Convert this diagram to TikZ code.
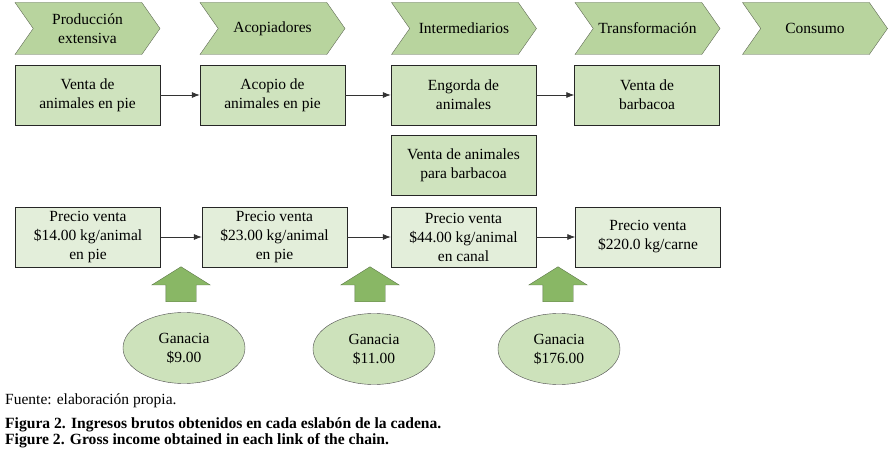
\documentclass[tikz,border=0pt]{standalone}
\usepackage{fontspec}
\setmainfont{Liberation Serif}
\usetikzlibrary{positioning,arrows,arrows.meta,shapes}
\usetikzlibrary{shapes.symbols,shapes.arrows,shapes.geometric}

\definecolor{chevfill}{RGB}{184,212,158}
\definecolor{chevline}{RGB}{95,105,85}
\definecolor{boxfill}{RGB}{207,227,190}
\definecolor{palefill}{RGB}{227,238,218}
\definecolor{ellfill}{RGB}{205,226,187}
\definecolor{upfill}{RGB}{137,183,101}
\definecolor{upline}{RGB}{95,120,75}

\newcommand{\cajafont}{\fontsize{15.5}{19}\selectfont}

\tikzset{
  eslabon/.style={shape=signal, signal from=west, signal to=east,
    signal pointer angle=110, draw=chevline, fill=chevfill,
    minimum width=145pt, minimum height=52pt, inner sep=0pt,
    align=center, font=\cajafont},
  caja/.style={draw=black!85, fill=boxfill, minimum width=145pt,
    minimum height=60pt, inner sep=0pt, align=center, font=\cajafont},
  precio/.style={caja, fill=palefill},
  ganancia/.style={ellipse, draw=black!70, fill=ellfill, minimum width=122pt,
    minimum height=71pt, inner sep=0pt, align=center, font=\cajafont},
  subida/.style={single arrow, rotate=90, draw=upline, fill=upfill,
    inner xsep=0pt, inner ysep=15pt, minimum height=35pt,
    single arrow head extend=14pt, single arrow tip angle=116},
  flecha/.style={-{Latex[length=8pt,width=6pt]}, line width=0.7pt, black!80}
}

\begin{document}
\begin{tikzpicture}[x=1pt, y=-1pt]
    \useasboundingbox (0,0) rectangle (892,470);
%
    % eslabones de la cadena
    \node[eslabon] (prod)  at (87.5,28.5)  {Producción\\extensiva};
    \node[eslabon] (acop)  at (272.5,28.5) {Acopiadores};
    \node[eslabon] (inter) at (464,28.5)   {Intermediarios};
    \node[eslabon] (trans) at (647.5,28.5) {Transformación};
    \node[eslabon] (cons)  at (815,28.5)   {Consumo};
%
    % actividades
    \node[caja] (venta)   at (87.5,95)  {Venta de\\animales en pie};
    \node[caja] (acopio)  at (272.5,95) {Acopio de\\animales en pie};
    \node[caja] (engorda) at (463.5,95) {Engorda de\\animales};
    \node[caja] (barba)   at (647,95)   {Venta de\\barbacoa};
    \node[caja] (ventab)  at (463.5,165) {Venta de animales\\para barbacoa};
%
    \draw[flecha] (venta) -- (acopio);
    \draw[flecha] (acopio) -- (engorda);
    \draw[flecha] (engorda) -- (barba);
%
    % precios
    \node[precio] (p1) at (88,237)    {Precio venta\\\$14.00 kg/animal\\en pie};
    \node[precio] (p2) at (274.5,237) {Precio venta\\\$23.00 kg/animal\\en pie};
    \node[precio] (p3) at (463.5,237) {Precio venta\\\$44.00 kg/animal\\en canal};
    \node[precio] (p4) at (648,237)   {Precio venta\\\$220.0 kg/carne};
%
    \draw[flecha] (p1) -- (p2);
    \draw[flecha] (p2) -- (p3);
    \draw[flecha] (p3) -- (p4);
%
    % ganancias
    \node[subida] (up1) at (181,289) {};
    \node[subida] (up2) at (370,289) {};
    \node[subida] (up3) at (558,289) {};
    \node[ganancia] (g1) at (184,348) {Ganacia\\\$9.00};
    \node[ganancia] (g2) at (374,349) {Ganacia\\\$11.00};
    \node[ganancia] (g3) at (559,349) {Ganacia\\\$176.00};
%
    \node[anchor=base west, font=\cajafont, inner sep=0pt] (fuente) at (5,405)
      {Fuente: elaboración propia.};
    \node[anchor=base west, align=left, inner sep=0pt,
      font=\fontsize{15.6}{15.5}\selectfont\bfseries] (titulo) at (5,444)
      {Figura 2. Ingresos brutos obtenidos en cada eslabón de la cadena.\\
       Figure 2. Gross income obtained in each link of the chain.};
\end{tikzpicture}
\end{document}
